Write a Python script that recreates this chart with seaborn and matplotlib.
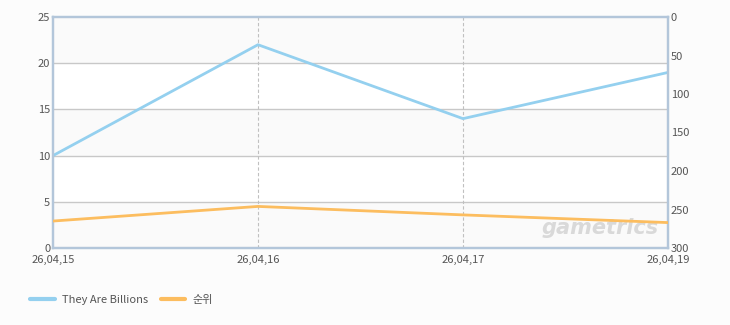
import matplotlib
matplotlib.use("Agg")
import matplotlib.pyplot as plt
import seaborn as sns
import pandas as pd
from matplotlib.lines import Line2D

dates = ["26,04,15", "26,04,16", "26,04,17", "26,04,19"]
players = [10, 22, 14, 19]
ranks = [265, 246, 257, 267]
left_ticks = [0, 5, 10, 15, 20, 25]
right_ticks = [0, 50, 100, 150, 200, 250, 300]
series_name = "They Are Billions"
rank_name = "순위"

sns.set_theme(style="white")
plt.rcParams['font.family'] = ['Noto Sans CJK KR', 'DejaVu Sans']

df = pd.DataFrame({"date": dates, "x": range(len(dates)), "players": players, "rank": ranks})

fig = plt.figure(figsize=(7.3, 3.25), dpi=100)
fig.patch.set_facecolor("#fcfcfc")
ax = fig.add_axes([53/730, 77/325, 615/730, 231/325])
ax.set_facecolor("white")
ax.set_xlim(0, 3)
ax.set_ylim(0, 25)

# alternating bands
for i, (lo, hi) in enumerate(zip(left_ticks[:-1], left_ticks[1:])):
    if i % 2 == 0:
        ax.axhspan(lo, hi, color="#fafafa", zorder=0, lw=0)
for v in left_ticks[1:-1]:
    ax.axhline(v, color="#c8c8c8", lw=1, zorder=1)
for xv in [1, 2]:
    ax.axvline(xv, color="#c0c0c0", lw=0.8, ls=(0, (3, 2)), zorder=1)

blue = "#94d0ef"
orange = "#fcbd5f"
sns.lineplot(data=df, x="x", y="players", ax=ax, color=blue, lw=2, zorder=3, legend=False)

ax2 = ax.twinx()
sns.lineplot(data=df, x="x", y="rank", ax=ax2, color=orange, lw=2, zorder=3, legend=False)
ax2.set_ylim(300, 0)
ax2.set_xlim(0, 3)

ax.set_xticks(range(len(dates)))
ax.set_xticklabels(dates)
ax.set_yticks(left_ticks)
ax2.set_yticks(right_ticks)
for a in (ax, ax2):
    a.set_xlabel("")
    a.set_ylabel("")
    a.tick_params(length=0, labelsize=8, colors="#555555", pad=2)
    for s in a.spines.values():
        s.set_color("#b3c6da")
        s.set_linewidth(1.6)
ax.tick_params(axis="x", pad=5)
labels = ax.get_xticklabels()
labels[0].set_ha("center")
labels[-1].set_ha("center")

ax2.text(0.985, 0.085, "gametrics", transform=ax.transAxes, ha="right", va="center",
         fontsize=15, style="italic", fontweight="bold", color="#d9d9d9",
         family="DejaVu Sans", zorder=2)

handles = [Line2D([0], [0], color=blue, lw=3), Line2D([0], [0], color=orange, lw=3)]
fig.legend(handles, [series_name, rank_name], loc="lower left", bbox_to_anchor=(0.028, 0.03),
           ncol=2, frameon=False, fontsize=8, handlelength=2.2, columnspacing=1.2,
           labelcolor="#555555", handletextpad=0.6)

fig.savefig("out.png", dpi=100, facecolor=fig.get_facecolor())
